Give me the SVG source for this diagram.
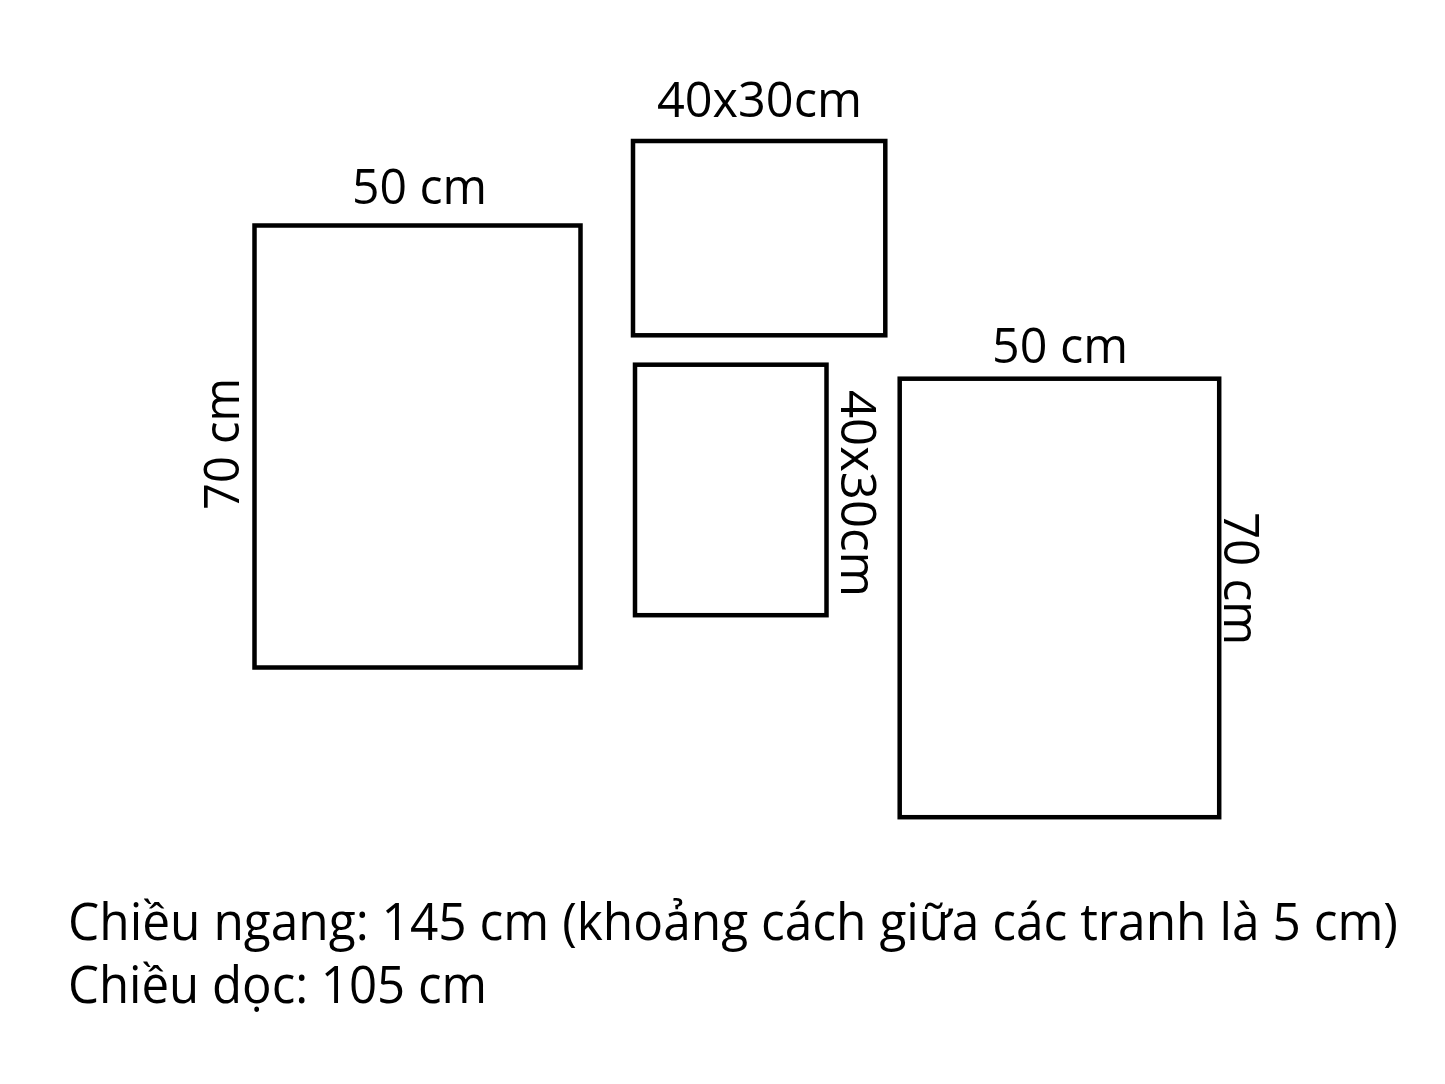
<svg xmlns="http://www.w3.org/2000/svg" width="1445" height="1084" viewBox="0 0 1445 1084">
  <style>
    .frame { fill: none; stroke: #000; stroke-width: 4.5; }
    .lbl { font-family: "Open Sans", "Noto Sans", sans-serif; font-size: 50px; fill: #000; text-anchor: middle; }
    .note { font-family: "Open Sans", "Noto Sans", sans-serif; font-size: 51px; fill: #000; }
  </style>
  <rect width="1445" height="1084" fill="#fff"/>
  <g id="panel-left">
    <rect class="frame" x="254.5" y="225.5" width="326" height="442"/>
    <text class="lbl" x="419.5" y="204" textLength="135" lengthAdjust="spacingAndGlyphs">50 cm</text>
    <text class="lbl" transform="translate(239,444) rotate(-90)" x="0" y="0" textLength="132" lengthAdjust="spacingAndGlyphs">70 cm</text>
  </g>
  <g id="panel-top-middle">
    <rect class="frame" x="633" y="141" width="252.3" height="194.3"/>
    <text class="lbl" x="759.5" y="117" textLength="205" lengthAdjust="spacingAndGlyphs">40x30cm</text>
  </g>
  <g id="panel-middle">
    <rect class="frame" x="635" y="364.7" width="191.5" height="250.5"/>
    <text class="lbl" transform="translate(841,493.5) rotate(90)" x="0" y="0" textLength="207" lengthAdjust="spacingAndGlyphs">40x30cm</text>
  </g>
  <g id="panel-right">
    <rect class="frame" x="899.7" y="378.7" width="319.5" height="438.5"/>
    <text class="lbl" x="1060" y="363" textLength="136" lengthAdjust="spacingAndGlyphs">50 cm</text>
    <text class="lbl" transform="translate(1224,578.5) rotate(90)" x="0" y="0" textLength="133" lengthAdjust="spacingAndGlyphs">70 cm</text>
  </g>
  <g id="connectors"></g>
  <g id="notes">
    <text class="note" x="68" y="940" textLength="1330" lengthAdjust="spacingAndGlyphs">Chiều ngang: 145 cm (khoảng cách giữa các tranh là 5 cm)</text>
    <text class="note" x="68" y="1003" textLength="419" lengthAdjust="spacingAndGlyphs">Chiều dọc: 105 cm</text>
  </g>
</svg>
